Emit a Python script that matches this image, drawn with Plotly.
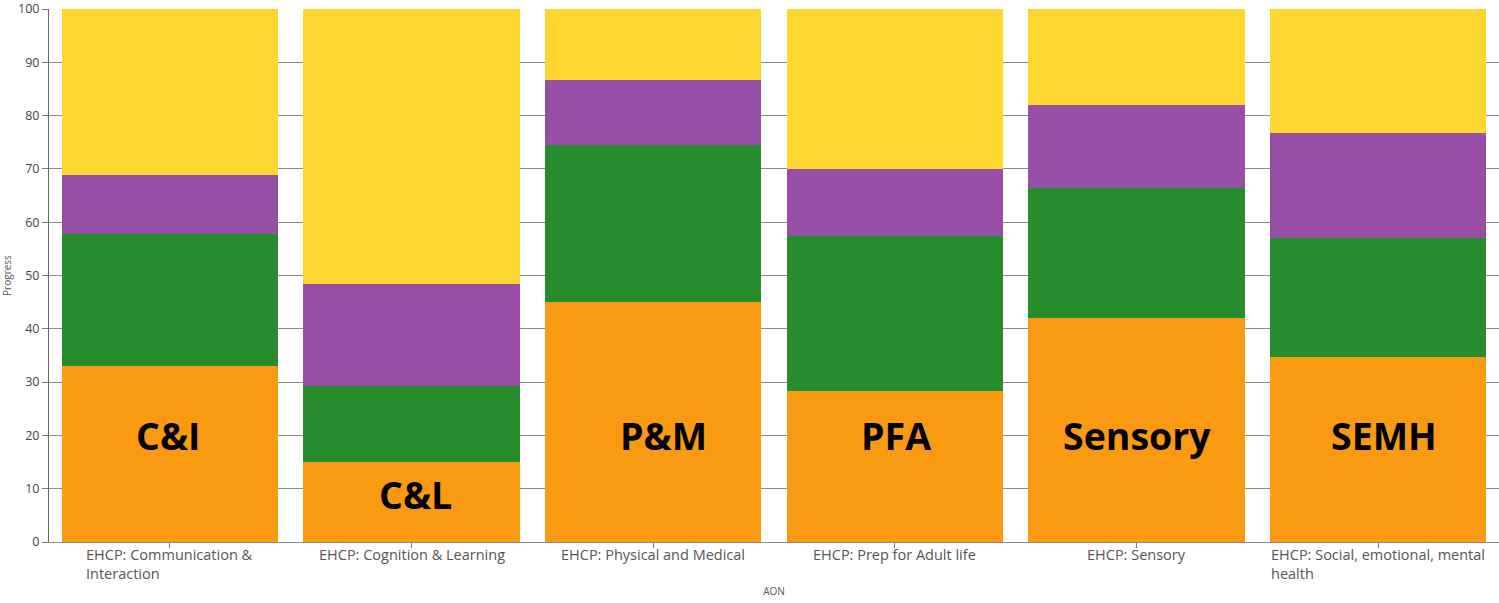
import plotly.graph_objects as go

categories = ["EHCP: Communication & Interaction", "EHCP: Cognition & Learning",
              "EHCP: Physical and Medical", "EHCP: Prep for Adult life",
              "EHCP: Sensory", "EHCP: Social, emotional, mental health"]
tick_labels = ["EHCP: Communication &<br>Interaction", "EHCP: Cognition & Learning",
               "EHCP: Physical and Medical", "EHCP: Prep for Adult life",
               "EHCP: Sensory", "EHCP: Social, emotional, mental<br>health"]
short_names = ["C&I", "C&L", "P&M", "PFA", "Sensory", "SEMH"]
label_y = [20, 9, 20, 20, 20, 20]

orange_vals = [33.0, 15.0, 45.0, 28.3, 42.0, 34.7]
green_vals = [24.7, 14.3, 29.5, 29.1, 24.4, 22.3]
purple_vals = [11.1, 19.1, 12.2, 12.6, 15.6, 19.7]
yellow_vals = [31.2, 51.6, 13.3, 30.0, 18.0, 23.3]

series = [("Orange", orange_vals, "#F99A12"),
          ("Green", green_vals, "#278C2E"),
          ("Purple", purple_vals, "#964FA5"),
          ("Yellow", yellow_vals, "#FDD72F")]

label_dx = [-2, 4, 10, 1, 0, 6]

fig = go.Figure()
for name, vals, col in series:
    fig.add_trace(go.Bar(x=categories, y=vals, name=name, marker_color=col,
                         marker_line_width=0))

for cat, lab, ly, dx in zip(categories, short_names, label_y, label_dx):
    fig.add_annotation(x=cat, y=ly, text=f"<b>{lab}</b>", showarrow=False, xshift=dx,
                       font=dict(family="Open Sans", size=37.5, color="black"))

for cat, tl in zip(categories, tick_labels):
    fig.add_annotation(x=cat, y=0, yref="y", text=tl, showarrow=False,
                       xanchor="center", yanchor="top", yshift=-1, align="left",
                       font=dict(family="Open Sans", size=14.5, color="#555"))

fig.update_layout(
    barmode="stack", bargap=0.106,
    width=1499, height=603,
    margin=dict(l=49, r=0, t=9, b=61),
    plot_bgcolor="white", paper_bgcolor="white",
    showlegend=False,
    xaxis=dict(showticklabels=False, ticks="outside", ticklen=5, tickcolor="#777",
               showline=True, linecolor="#888", linewidth=1, automargin=False,
               title=dict(text="AON", font=dict(family="Open Sans", size=10, color="#555"),
                          standoff=40)),
    yaxis=dict(range=[0, 100], dtick=10, showgrid=True, gridcolor="#8a8a8a", gridwidth=1,
               showline=True, linecolor="#666", linewidth=1, automargin=False,
               ticks="outside", ticklen=6, tickcolor="#777",
               tickfont=dict(family="Open Sans", size=12.5, color="#444"),
               zeroline=False,
               title=dict(text="Progress", font=dict(family="Open Sans", size=10, color="#555"),
                          standoff=6)),
)

fig.write_html("out.html", config={"displayModeBar": False},
               post_script="document.body.style.margin='0';")
